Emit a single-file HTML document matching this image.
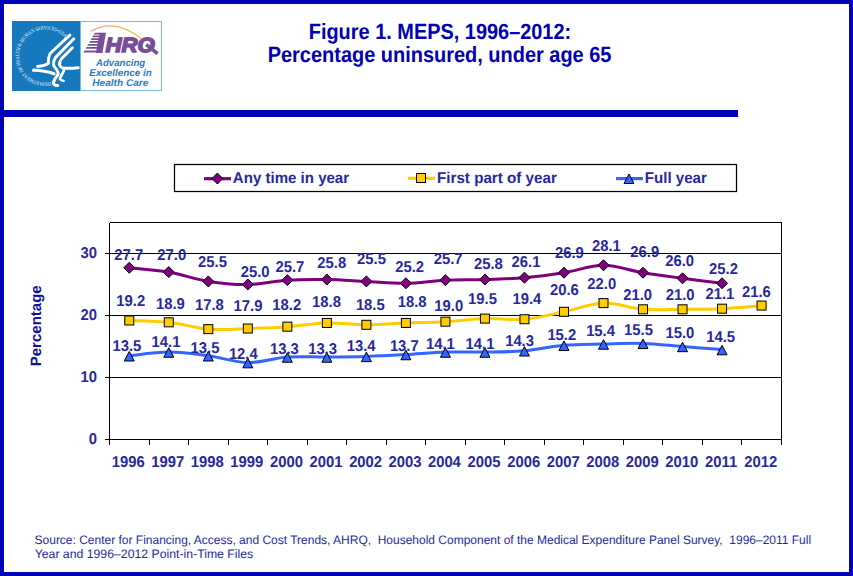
<!DOCTYPE html>
<html><head><meta charset="utf-8">
<style>
html,body{margin:0;padding:0;}
body{width:853px;height:576px;position:relative;overflow:hidden;background:#fff;}
.abs{position:absolute;}
#frame{left:0;top:0;width:845px;height:568px;border:4px solid #0000B4;}
#bar{left:0;top:110px;width:738px;height:7px;background:#0000B4;}
svg{position:absolute;left:0;top:0;}
</style></head><body>
<div class="abs" id="frame"></div>
<div class="abs" id="bar"></div><div class="abs" style="left:737px;top:112px;width:1px;height:5px;background:#0000B4;"></div>
<svg width="853" height="576" viewBox="0 0 853 576" text-rendering="geometricPrecision">
<defs><clipPath id="ahrqclip"><rect x="80" y="22" width="82" height="31.4"/></clipPath></defs>
<g id="logo">
<rect x="12" y="21" width="68" height="70" fill="#1679BD"/>
<rect x="80.5" y="21.5" width="81" height="69" fill="#fff" stroke="#7fb8dc" stroke-width="1"/>
<path id="ring" d="M50.68,82.11 A26.6,26.6 0 1 1 64.73,37.52" fill="none"/>
<text font-family="Liberation Serif, serif" font-size="5.2" fill="#eef6fb"><textPath href="#ring" textLength="110.0" lengthAdjust="spacingAndGlyphs">DEPARTMENT OF HEALTH &amp; HUMAN SERVICES&#8226;USA</textPath></text>
<g fill="none" stroke="#fff" stroke-linecap="round" stroke-linejoin="round">
<path d="M69.9,35.2 L50.6,53 Q48.2,56.5 48.4,63.2 Q45,65.8 37.6,66.4" stroke-width="3"/>
<path d="M73.8,38.8 L55.4,57.6 Q53.2,61 53.6,65.2 Q55,67.8 56.4,69.2 Q58.5,72.5 58.2,74.2 Q54.5,78.5 53.4,82.5 Q53.4,85.6 57.8,85.4" stroke-width="3"/>
<path d="M33.6,70.2 Q45,70.6 54,73.8" stroke-width="3.2"/>
<path d="M72.4,47.8 L61.2,59 Q59.2,62 59.6,65 Q60.6,67.6 63,68.2 Q70,68.6 78.2,67.8" stroke-width="3"/>
<path d="M64,70.5 Q61.5,75 59.8,78.6 Q61,80.8 63.6,81" stroke-width="2.6"/>
</g>
<defs><linearGradient id="arcg" x1="0" x2="1"><stop offset="0" stop-color="#e8a0b0"/><stop offset="0.5" stop-color="#f0b050"/><stop offset="1" stop-color="#f0c040"/></linearGradient></defs>
<g font-family="Liberation Sans, sans-serif">
<text x="105.46" y="52.00" font-size="20.60" font-weight="bold" font-style="italic" fill="#7A4E97" textLength="49.22" lengthAdjust="spacingAndGlyphs" stroke="#7A4E97" stroke-width="1.5" stroke-linejoin="round">HRO</text>
</g>
<path d="M146.2,44.6 L157.6,53.6" stroke="#7A4E97" stroke-width="3.6"/>
<path d="M99.6,32.8 H106 L102.4,52.9 H95.8 Z" fill="#7A4E97"/>
<path d="M94.80,32.80 H100.5 V34.60 H93.76 Z" fill="#7A4E97"/>
<path d="M93.21,35.55 H100.5 V37.25 H92.23 Z" fill="#7A4E97"/>
<path d="M91.65,38.25 H100.5 V39.95 H90.67 Z" fill="#7A4E97"/>
<path d="M90.10,40.95 H100.5 V42.65 H89.12 Z" fill="#7A4E97"/>
<path d="M88.34,44.00 H100.5 V45.80 H87.30 Z" fill="#7A4E97"/>
<path d="M86.60,47.00 H100.5 V48.80 H85.57 Z" fill="#7A4E97"/>
<path d="M84.53,50.60 H100.5 V52.60 H83.37 Z" fill="#7A4E97"/>
<path d="M90.8,31.6 Q114,17 141.8,39" fill="none" stroke="url(#arcg)" stroke-width="1.2"/>
<g font-family="Liberation Sans, sans-serif">
<text x="96.09" y="65.50" font-size="9.80" font-weight="bold" font-style="italic" fill="#1F7EC0" textLength="49.07" lengthAdjust="spacingAndGlyphs">Advancing</text>
<text x="89.30" y="75.80" font-size="9.80" font-weight="bold" font-style="italic" fill="#1F7EC0" textLength="62.51" lengthAdjust="spacingAndGlyphs">Excellence in</text>
<text x="92.30" y="86.00" font-size="9.80" font-weight="bold" font-style="italic" fill="#1F7EC0" textLength="56.08" lengthAdjust="spacingAndGlyphs">Health Care</text>
</g>
</g>
<g font-family="Liberation Sans, sans-serif">
<text x="308.76" y="38.90" font-size="22.00" font-weight="bold" font-style="normal" fill="#0000B4" textLength="262.41" lengthAdjust="spacingAndGlyphs">Figure 1. MEPS, 1996&#8211;2012:</text>
<text x="267.70" y="61.80" font-size="22.00" font-weight="bold" font-style="normal" fill="#0000B4" textLength="343.75" lengthAdjust="spacingAndGlyphs">Percentage uninsured, under age 65</text>
</g>
<rect x="174.5" y="164.5" width="562" height="27" fill="#fff" stroke="#000" stroke-width="1.25"/>
<path d="M204,178.7 H231" stroke="#800080" stroke-width="3.2"/>
<path d="M217.4,173 l5.4,5.5 l-5.4,5.5 l-5.4,-5.5 z" fill="#800080" stroke="#000" stroke-width="1"/>
<path d="M408,178.3 H435" stroke="#FFCC00" stroke-width="3.2"/>
<rect x="416.5" y="173.5" width="9" height="9" fill="#FFCC00" stroke="#000" stroke-width="1"/>
<path d="M616,178.6 H643" stroke="#3366FF" stroke-width="3.2"/>
<path d="M629,174 l5,9.5 h-10 z" fill="#3366FF" stroke="#000" stroke-width="1"/>
<g font-family="Liberation Sans, sans-serif">
<text x="232.82" y="183.30" font-size="15.50" font-weight="bold" font-style="normal" fill="#28289A" textLength="116.30" lengthAdjust="spacingAndGlyphs">Any time in year</text>
<text x="437.01" y="183.30" font-size="15.50" font-weight="bold" font-style="normal" fill="#28289A" textLength="119.83" lengthAdjust="spacingAndGlyphs">First part of year</text>
<text x="644.82" y="183.30" font-size="15.50" font-weight="bold" font-style="normal" fill="#28289A" textLength="61.97" lengthAdjust="spacingAndGlyphs">Full year</text>
</g>
<text transform="translate(40.9,325.8) rotate(-90)" text-anchor="middle" font-family="Liberation Sans, sans-serif" font-weight="bold" font-size="15" fill="#10109a">Percentage</text>
<g stroke="#000" stroke-width="1" fill="none" shape-rendering="crispEdges">
<path d="M109.5,222.5 H781.5 V439.5 M109.5,222.5 V444.5"/>
<path d="M105,377.5 H781.5"/>
<path d="M105,315.5 H781.5"/>
<path d="M105,253.5 H781.5"/>
<path d="M105,439.5 H781.5"/>
<path d="M109.5,439.5 V444.5"/>
<path d="M149.5,439.5 V444.5"/>
<path d="M188.5,439.5 V444.5"/>
<path d="M228.5,439.5 V444.5"/>
<path d="M267.5,439.5 V444.5"/>
<path d="M307.5,439.5 V444.5"/>
<path d="M346.5,439.5 V444.5"/>
<path d="M386.5,439.5 V444.5"/>
<path d="M425.5,439.5 V444.5"/>
<path d="M465.5,439.5 V444.5"/>
<path d="M504.5,439.5 V444.5"/>
<path d="M544.5,439.5 V444.5"/>
<path d="M583.5,439.5 V444.5"/>
<path d="M623.5,439.5 V444.5"/>
<path d="M662.5,439.5 V444.5"/>
<path d="M702.5,439.5 V444.5"/>
<path d="M741.5,439.5 V444.5"/>
<path d="M781.5,439.5 V444.5"/>
</g>
<path d="M129.26,320.46 C135.85,320.77 155.61,320.87 168.78,322.32 C181.95,323.77 195.13,328.11 208.30,329.14 C221.47,330.17 234.65,328.93 247.82,328.52 C260.99,328.11 274.17,327.59 287.34,326.66 C300.51,325.73 313.69,323.25 326.86,322.94 C340.03,322.63 353.21,324.80 366.38,324.80 C379.55,324.80 392.73,323.46 405.90,322.94 C419.07,322.42 432.25,322.42 445.42,321.70 C458.59,320.98 471.77,319.01 484.94,318.60 C498.11,318.19 511.29,320.36 524.46,319.22 C537.63,318.08 550.81,314.47 563.98,311.78 C577.15,309.09 590.33,303.51 603.50,303.10 C616.67,302.69 629.85,308.27 643.02,309.30 C656.19,310.33 669.37,309.40 682.54,309.30 C695.71,309.20 708.89,309.30 722.06,308.68 C735.23,308.06 754.99,306.10 761.58,305.58" fill="none" stroke="#FFCC00" stroke-width="3.0" stroke-linejoin="round"/>
<path d="M129.26,355.80 C135.85,355.18 155.61,352.08 168.78,352.08 C181.95,352.08 195.13,354.04 208.30,355.80 C221.47,357.56 234.65,362.41 247.82,362.62 C260.99,362.83 274.17,357.97 287.34,357.04 C300.51,356.11 313.69,357.14 326.86,357.04 C340.03,356.94 353.21,356.83 366.38,356.42 C379.55,356.01 392.73,355.28 405.90,354.56 C419.07,353.84 432.25,352.49 445.42,352.08 C458.59,351.67 471.77,352.29 484.94,352.08 C498.11,351.87 511.29,351.98 524.46,350.84 C537.63,349.70 550.81,346.40 563.98,345.26 C577.15,344.12 590.33,344.33 603.50,344.02 C616.67,343.71 629.85,342.99 643.02,343.40 C656.19,343.81 669.37,345.47 682.54,346.50 C695.71,347.53 715.47,349.08 722.06,349.60" fill="none" stroke="#3366FF" stroke-width="3.0" stroke-linejoin="round"/>
<path d="M129.26,267.76 C135.85,268.48 155.61,269.83 168.78,272.10 C181.95,274.37 195.13,279.33 208.30,281.40 C221.47,283.47 234.65,284.71 247.82,284.50 C260.99,284.29 274.17,280.99 287.34,280.16 C300.51,279.33 313.69,279.33 326.86,279.54 C340.03,279.75 353.21,280.78 366.38,281.40 C379.55,282.02 392.73,283.47 405.90,283.26 C419.07,283.05 432.25,280.78 445.42,280.16 C458.59,279.54 471.77,279.95 484.94,279.54 C498.11,279.13 511.29,278.82 524.46,277.68 C537.63,276.54 550.81,274.79 563.98,272.72 C577.15,270.65 590.33,265.28 603.50,265.28 C616.67,265.28 629.85,270.55 643.02,272.72 C656.19,274.89 669.37,276.54 682.54,278.30 C695.71,280.06 715.47,282.43 722.06,283.26" fill="none" stroke="#800080" stroke-width="3.0" stroke-linejoin="round"/>
<path d="M129.26,262.26 l5.5,5.5 l-5.5,5.5 l-5.5,-5.5 z" fill="#800080" stroke="#000" stroke-width="1"/>
<path d="M168.78,266.60 l5.5,5.5 l-5.5,5.5 l-5.5,-5.5 z" fill="#800080" stroke="#000" stroke-width="1"/>
<path d="M208.30,275.90 l5.5,5.5 l-5.5,5.5 l-5.5,-5.5 z" fill="#800080" stroke="#000" stroke-width="1"/>
<path d="M247.82,279.00 l5.5,5.5 l-5.5,5.5 l-5.5,-5.5 z" fill="#800080" stroke="#000" stroke-width="1"/>
<path d="M287.34,274.66 l5.5,5.5 l-5.5,5.5 l-5.5,-5.5 z" fill="#800080" stroke="#000" stroke-width="1"/>
<path d="M326.86,274.04 l5.5,5.5 l-5.5,5.5 l-5.5,-5.5 z" fill="#800080" stroke="#000" stroke-width="1"/>
<path d="M366.38,275.90 l5.5,5.5 l-5.5,5.5 l-5.5,-5.5 z" fill="#800080" stroke="#000" stroke-width="1"/>
<path d="M405.90,277.76 l5.5,5.5 l-5.5,5.5 l-5.5,-5.5 z" fill="#800080" stroke="#000" stroke-width="1"/>
<path d="M445.42,274.66 l5.5,5.5 l-5.5,5.5 l-5.5,-5.5 z" fill="#800080" stroke="#000" stroke-width="1"/>
<path d="M484.94,274.04 l5.5,5.5 l-5.5,5.5 l-5.5,-5.5 z" fill="#800080" stroke="#000" stroke-width="1"/>
<path d="M524.46,272.18 l5.5,5.5 l-5.5,5.5 l-5.5,-5.5 z" fill="#800080" stroke="#000" stroke-width="1"/>
<path d="M563.98,267.22 l5.5,5.5 l-5.5,5.5 l-5.5,-5.5 z" fill="#800080" stroke="#000" stroke-width="1"/>
<path d="M603.50,259.78 l5.5,5.5 l-5.5,5.5 l-5.5,-5.5 z" fill="#800080" stroke="#000" stroke-width="1"/>
<path d="M643.02,267.22 l5.5,5.5 l-5.5,5.5 l-5.5,-5.5 z" fill="#800080" stroke="#000" stroke-width="1"/>
<path d="M682.54,272.80 l5.5,5.5 l-5.5,5.5 l-5.5,-5.5 z" fill="#800080" stroke="#000" stroke-width="1"/>
<path d="M722.06,277.76 l5.5,5.5 l-5.5,5.5 l-5.5,-5.5 z" fill="#800080" stroke="#000" stroke-width="1"/>
<rect x="124.76" y="315.96" width="9" height="9" fill="#FFCC00" stroke="#000" stroke-width="1"/>
<rect x="164.28" y="317.82" width="9" height="9" fill="#FFCC00" stroke="#000" stroke-width="1"/>
<rect x="203.80" y="324.64" width="9" height="9" fill="#FFCC00" stroke="#000" stroke-width="1"/>
<rect x="243.32" y="324.02" width="9" height="9" fill="#FFCC00" stroke="#000" stroke-width="1"/>
<rect x="282.84" y="322.16" width="9" height="9" fill="#FFCC00" stroke="#000" stroke-width="1"/>
<rect x="322.36" y="318.44" width="9" height="9" fill="#FFCC00" stroke="#000" stroke-width="1"/>
<rect x="361.88" y="320.30" width="9" height="9" fill="#FFCC00" stroke="#000" stroke-width="1"/>
<rect x="401.40" y="318.44" width="9" height="9" fill="#FFCC00" stroke="#000" stroke-width="1"/>
<rect x="440.92" y="317.20" width="9" height="9" fill="#FFCC00" stroke="#000" stroke-width="1"/>
<rect x="480.44" y="314.10" width="9" height="9" fill="#FFCC00" stroke="#000" stroke-width="1"/>
<rect x="519.96" y="314.72" width="9" height="9" fill="#FFCC00" stroke="#000" stroke-width="1"/>
<rect x="559.48" y="307.28" width="9" height="9" fill="#FFCC00" stroke="#000" stroke-width="1"/>
<rect x="599.00" y="298.60" width="9" height="9" fill="#FFCC00" stroke="#000" stroke-width="1"/>
<rect x="638.52" y="304.80" width="9" height="9" fill="#FFCC00" stroke="#000" stroke-width="1"/>
<rect x="678.04" y="304.80" width="9" height="9" fill="#FFCC00" stroke="#000" stroke-width="1"/>
<rect x="717.56" y="304.18" width="9" height="9" fill="#FFCC00" stroke="#000" stroke-width="1"/>
<rect x="757.08" y="301.08" width="9" height="9" fill="#FFCC00" stroke="#000" stroke-width="1"/>
<path d="M129.26,351.50 l5,9.5 h-10 z" fill="#3366FF" stroke="#000" stroke-width="1"/>
<path d="M168.78,347.78 l5,9.5 h-10 z" fill="#3366FF" stroke="#000" stroke-width="1"/>
<path d="M208.30,351.50 l5,9.5 h-10 z" fill="#3366FF" stroke="#000" stroke-width="1"/>
<path d="M247.82,358.32 l5,9.5 h-10 z" fill="#3366FF" stroke="#000" stroke-width="1"/>
<path d="M287.34,352.74 l5,9.5 h-10 z" fill="#3366FF" stroke="#000" stroke-width="1"/>
<path d="M326.86,352.74 l5,9.5 h-10 z" fill="#3366FF" stroke="#000" stroke-width="1"/>
<path d="M366.38,352.12 l5,9.5 h-10 z" fill="#3366FF" stroke="#000" stroke-width="1"/>
<path d="M405.90,350.26 l5,9.5 h-10 z" fill="#3366FF" stroke="#000" stroke-width="1"/>
<path d="M445.42,347.78 l5,9.5 h-10 z" fill="#3366FF" stroke="#000" stroke-width="1"/>
<path d="M484.94,347.78 l5,9.5 h-10 z" fill="#3366FF" stroke="#000" stroke-width="1"/>
<path d="M524.46,346.54 l5,9.5 h-10 z" fill="#3366FF" stroke="#000" stroke-width="1"/>
<path d="M563.98,340.96 l5,9.5 h-10 z" fill="#3366FF" stroke="#000" stroke-width="1"/>
<path d="M603.50,339.72 l5,9.5 h-10 z" fill="#3366FF" stroke="#000" stroke-width="1"/>
<path d="M643.02,339.10 l5,9.5 h-10 z" fill="#3366FF" stroke="#000" stroke-width="1"/>
<path d="M682.54,342.20 l5,9.5 h-10 z" fill="#3366FF" stroke="#000" stroke-width="1"/>
<path d="M722.06,345.30 l5,9.5 h-10 z" fill="#3366FF" stroke="#000" stroke-width="1"/>
<g font-family="Liberation Sans, sans-serif" font-weight="bold" font-size="15.6" fill="#28289A">
<text x="114.32" y="259.90" textLength="28.84" lengthAdjust="spacingAndGlyphs">27.7</text>
<text x="157.37" y="260.00" textLength="28.84" lengthAdjust="spacingAndGlyphs">27.0</text>
<text x="198.06" y="266.90" textLength="28.84" lengthAdjust="spacingAndGlyphs">25.5</text>
<text x="240.77" y="276.90" textLength="28.84" lengthAdjust="spacingAndGlyphs">25.0</text>
<text x="275.47" y="271.90" textLength="28.84" lengthAdjust="spacingAndGlyphs">25.7</text>
<text x="317.30" y="267.50" textLength="28.84" lengthAdjust="spacingAndGlyphs">25.8</text>
<text x="357.06" y="263.90" textLength="28.84" lengthAdjust="spacingAndGlyphs">25.5</text>
<text x="395.27" y="271.90" textLength="28.84" lengthAdjust="spacingAndGlyphs">25.2</text>
<text x="433.77" y="264.30" textLength="28.84" lengthAdjust="spacingAndGlyphs">25.7</text>
<text x="474.00" y="268.50" textLength="28.84" lengthAdjust="spacingAndGlyphs">25.8</text>
<text x="511.56" y="266.90" textLength="28.84" lengthAdjust="spacingAndGlyphs">26.1</text>
<text x="554.99" y="257.50" textLength="28.84" lengthAdjust="spacingAndGlyphs">26.9</text>
<text x="591.91" y="251.00" textLength="28.84" lengthAdjust="spacingAndGlyphs">28.1</text>
<text x="630.34" y="256.90" textLength="28.84" lengthAdjust="spacingAndGlyphs">26.9</text>
<text x="665.22" y="265.90" textLength="28.84" lengthAdjust="spacingAndGlyphs">26.0</text>
<text x="709.07" y="273.50" textLength="28.84" lengthAdjust="spacingAndGlyphs">25.2</text>
<text x="116.34" y="305.90" textLength="28.84" lengthAdjust="spacingAndGlyphs">19.2</text>
<text x="155.95" y="308.90" textLength="28.84" lengthAdjust="spacingAndGlyphs">18.9</text>
<text x="194.92" y="309.90" textLength="28.84" lengthAdjust="spacingAndGlyphs">17.8</text>
<text x="233.60" y="310.90" textLength="28.84" lengthAdjust="spacingAndGlyphs">17.9</text>
<text x="272.34" y="309.90" textLength="28.84" lengthAdjust="spacingAndGlyphs">18.2</text>
<text x="312.12" y="306.50" textLength="28.84" lengthAdjust="spacingAndGlyphs">18.8</text>
<text x="355.88" y="309.90" textLength="28.84" lengthAdjust="spacingAndGlyphs">18.5</text>
<text x="397.72" y="306.50" textLength="28.84" lengthAdjust="spacingAndGlyphs">18.8</text>
<text x="434.34" y="310.90" textLength="28.84" lengthAdjust="spacingAndGlyphs">19.0</text>
<text x="468.08" y="303.90" textLength="28.84" lengthAdjust="spacingAndGlyphs">19.5</text>
<text x="512.53" y="303.90" textLength="28.84" lengthAdjust="spacingAndGlyphs">19.4</text>
<text x="550.04" y="294.90" textLength="28.84" lengthAdjust="spacingAndGlyphs">20.6</text>
<text x="587.37" y="288.80" textLength="28.84" lengthAdjust="spacingAndGlyphs">22.0</text>
<text x="623.17" y="299.90" textLength="28.84" lengthAdjust="spacingAndGlyphs">21.0</text>
<text x="665.72" y="299.90" textLength="28.84" lengthAdjust="spacingAndGlyphs">21.0</text>
<text x="705.46" y="299.00" textLength="28.84" lengthAdjust="spacingAndGlyphs">21.1</text>
<text x="741.99" y="296.90" textLength="28.84" lengthAdjust="spacingAndGlyphs">21.6</text>
<text x="112.48" y="350.90" textLength="28.84" lengthAdjust="spacingAndGlyphs">13.5</text>
<text x="151.58" y="346.50" textLength="28.84" lengthAdjust="spacingAndGlyphs">14.1</text>
<text x="190.58" y="352.50" textLength="28.84" lengthAdjust="spacingAndGlyphs">13.5</text>
<text x="228.88" y="358.90" textLength="28.84" lengthAdjust="spacingAndGlyphs">12.4</text>
<text x="270.00" y="353.90" textLength="28.84" lengthAdjust="spacingAndGlyphs">13.3</text>
<text x="308.15" y="353.90" textLength="28.84" lengthAdjust="spacingAndGlyphs">13.3</text>
<text x="346.73" y="350.90" textLength="28.84" lengthAdjust="spacingAndGlyphs">13.4</text>
<text x="389.89" y="350.90" textLength="28.84" lengthAdjust="spacingAndGlyphs">13.7</text>
<text x="425.98" y="348.50" textLength="28.84" lengthAdjust="spacingAndGlyphs">14.1</text>
<text x="465.58" y="348.50" textLength="28.84" lengthAdjust="spacingAndGlyphs">14.1</text>
<text x="505.15" y="345.90" textLength="28.84" lengthAdjust="spacingAndGlyphs">14.3</text>
<text x="547.39" y="340.00" textLength="28.84" lengthAdjust="spacingAndGlyphs">15.2</text>
<text x="586.13" y="335.80" textLength="28.84" lengthAdjust="spacingAndGlyphs">15.4</text>
<text x="624.08" y="334.80" textLength="28.84" lengthAdjust="spacingAndGlyphs">15.5</text>
<text x="665.54" y="337.80" textLength="28.84" lengthAdjust="spacingAndGlyphs">15.0</text>
<text x="706.28" y="341.80" textLength="28.84" lengthAdjust="spacingAndGlyphs">14.5</text>
<text x="88.77" y="444.20" textLength="8.24" lengthAdjust="spacingAndGlyphs">0</text>
<text x="80.54" y="382.20" textLength="16.48" lengthAdjust="spacingAndGlyphs">10</text>
<text x="80.54" y="320.20" textLength="16.48" lengthAdjust="spacingAndGlyphs">20</text>
<text x="80.54" y="258.20" textLength="16.48" lengthAdjust="spacingAndGlyphs">30</text>
<text x="111.79" y="466.70" textLength="32.97" lengthAdjust="spacingAndGlyphs">1996</text>
<text x="151.34" y="466.70" textLength="32.97" lengthAdjust="spacingAndGlyphs">1997</text>
<text x="190.79" y="466.70" textLength="32.97" lengthAdjust="spacingAndGlyphs">1998</text>
<text x="230.35" y="466.70" textLength="32.97" lengthAdjust="spacingAndGlyphs">1999</text>
<text x="270.09" y="466.70" textLength="32.97" lengthAdjust="spacingAndGlyphs">2000</text>
<text x="309.50" y="466.70" textLength="32.97" lengthAdjust="spacingAndGlyphs">2001</text>
<text x="349.13" y="466.70" textLength="32.97" lengthAdjust="spacingAndGlyphs">2002</text>
<text x="388.61" y="466.70" textLength="32.97" lengthAdjust="spacingAndGlyphs">2003</text>
<text x="427.91" y="466.70" textLength="32.97" lengthAdjust="spacingAndGlyphs">2004</text>
<text x="467.58" y="466.70" textLength="32.97" lengthAdjust="spacingAndGlyphs">2005</text>
<text x="507.17" y="466.70" textLength="32.97" lengthAdjust="spacingAndGlyphs">2006</text>
<text x="546.73" y="466.70" textLength="32.97" lengthAdjust="spacingAndGlyphs">2007</text>
<text x="586.18" y="466.70" textLength="32.97" lengthAdjust="spacingAndGlyphs">2008</text>
<text x="625.73" y="466.70" textLength="32.97" lengthAdjust="spacingAndGlyphs">2009</text>
<text x="665.29" y="466.70" textLength="32.97" lengthAdjust="spacingAndGlyphs">2010</text>
<text x="705.11" y="466.70" textLength="32.15" lengthAdjust="spacingAndGlyphs">2011</text>
<text x="744.33" y="466.70" textLength="32.97" lengthAdjust="spacingAndGlyphs">2012</text>
</g>
<g font-family="Liberation Sans, sans-serif">
<text x="34.56" y="543.90" font-size="12.30" font-weight="normal" font-style="normal" fill="#28289A" textLength="776.55" lengthAdjust="spacingAndGlyphs" xml:space="preserve">Source: Center for Financing, Access, and Cost Trends, AHRQ,  Household Component of the Medical Expenditure Panel Survey,  1996&#8211;2011 Full</text>
<text x="34.69" y="557.80" font-size="12.30" font-weight="normal" font-style="normal" fill="#28289A" textLength="218.55" lengthAdjust="spacingAndGlyphs">Year and 1996&#8211;2012 Point-in-Time Files</text>
</g>
</svg>
</body></html>
